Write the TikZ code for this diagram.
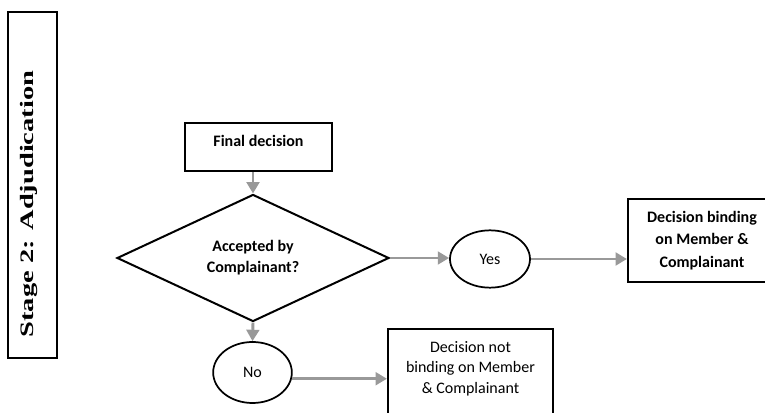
\documentclass[tikz,border=0pt]{standalone}
\usepackage{fontspec}
\setmainfont{Carlito}
\newfontfamily\stagefont{Liberation Serif}
\usepackage{tikz}
\usetikzlibrary{shapes.geometric,arrows.meta}

\begin{document}
\begin{tikzpicture}[x=0.75pt,y=-0.75pt,
  box/.style={rectangle,draw=black,line width=1.6pt,align=center},
  decide/.style={diamond,draw=black,line width=1.5pt,align=center,minimum width=204pt,minimum height=91.5pt,inner sep=0pt},
  answer/.style={ellipse,draw=black,line width=1.3pt,minimum width=60pt,minimum height=43pt,inner sep=0pt},
  flow/.style={draw=black!40,line width=2.2pt,-{Triangle[length=8.5pt,width=9.5pt]}}
]
\useasboundingbox (0,0) rectangle (765,413);
\clip (0,0) rectangle (765,413);

% stage label
\node[rectangle,draw=black,line width=1.9pt,minimum width=36.75pt,minimum height=259.5pt,inner sep=0pt] (stage) at (32.5,185) {};
\node[rotate=90,font=\stagefont\fontsize{14.25}{16}\selectfont\bfseries] (stagetext) at (29,204) {\scalebox{1.5}[1]{Stage 2: Adjudication}};

% flow
\node[box,minimum width=110pt,minimum height=36pt,text depth=9pt,font=\fontsize{12}{15}\selectfont\bfseries] (final) at (258.5,147) {Final decision};
\node[decide,font=\fontsize{12}{15.75}\selectfont\bfseries] (dia) at (253,258) {Accepted by\\Complainant?};
\node[answer,font=\fontsize{12}{15}\selectfont] (yes) at (490,259) {Yes};
\node[answer,minimum width=59pt,minimum height=45.75pt,font=\fontsize{12}{15}\selectfont] (no) at (252.5,372.5) {No};
\node[box,minimum width=111pt,minimum height=62.25pt,font=\fontsize{12}{16.9}\selectfont\bfseries] (bind) at (702,240.5) {Decision binding\\on Member \&\\Complainant};
\node[box,anchor=north,minimum width=123.75pt,minimum height=75pt,text depth=17.5pt,font=\fontsize{12}{15.4}\selectfont] (notbind) at (470.5,328) {Decision not\\binding on Member\\\& Complainant};

\draw[flow] (dia.north |- final.south) -- (dia.north);
\draw[flow] (dia.east) -- (dia.east -| yes.west);
\draw[flow] (yes.east) -- (yes.east -| bind.west);
\draw[flow] (dia.south) -- (no.north);
\draw[flow] (no.-9) -- (no.-9 -| notbind.west);

\end{tikzpicture}
\end{document}
